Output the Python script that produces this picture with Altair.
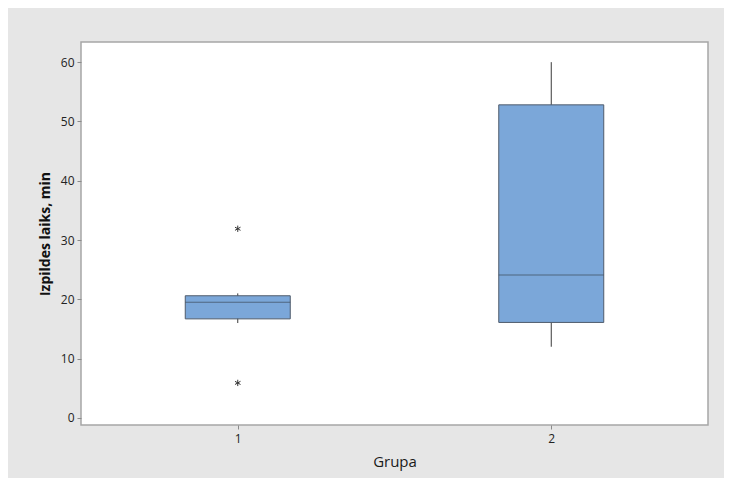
import altair as alt
import pandas as pd

groups = ["1", "2"]
q1 = [16.7, 16.1]
median = [19.5, 24.1]
q3 = [20.6, 52.8]
whisker_low = [16.0, 12.0]
whisker_high = [21.0, 60.0]
outlier_group = ["1", "1"]
outlier_value = [31.9, 5.9]
y_ticks = [0, 10, 20, 30, 40, 50, 60]

boxes = pd.DataFrame({"Grupa": groups, "q1": q1, "median": median, "q3": q3,
                      "lo": whisker_low, "hi": whisker_high})
outs = pd.DataFrame({"Grupa": outlier_group, "v": outlier_value})

xscale = alt.Scale(type="point", padding=0.5, domain=groups)
yscale = alt.Scale(domain=[-1.2, 63.4], nice=False, zero=False)

x_enc = alt.X("Grupa:N", scale=xscale, title="Grupa",
              axis=alt.Axis(labelAngle=0, domain=False, tickColor="#8a8a8a", tickSize=4,
                            labelColor="#222222", labelFontSize=12, labelPadding=4,
                            titleFontSize=15, titleFontWeight=500, titleColor="#1a1a1a",
                            titlePadding=10, labelFont="Open Sans", titleFont="Open Sans"))
y_axis = alt.Axis(values=y_ticks, domain=False, grid=False, tickColor="#8a8a8a", tickSize=4,
                  labelColor="#222222", labelFontSize=12, labelPadding=3,
                  titleFontSize=14, titleFontWeight="bold", titleColor="#111111",
                  titlePadding=8, labelFont="Open Sans", titleFont="Open Sans")

base = alt.Chart(boxes)

whisk = base.mark_rule(color="#3a3a3a", strokeWidth=1).encode(
    x=x_enc,
    y=alt.Y("lo:Q", scale=yscale, axis=y_axis, title="Izpildes laiks, min"),
    y2="hi:Q",
)
bar = base.mark_bar(size=105, color="#7ba7d9", stroke="#4f5b6b", strokeWidth=1).encode(
    x=alt.X("Grupa:N", scale=xscale),
    y=alt.Y("q1:Q", scale=yscale),
    y2="q3:Q",
)
med = base.mark_tick(size=105, thickness=1, color="#3d4a5a", orient="horizontal").encode(
    x=alt.X("Grupa:N", scale=xscale),
    y=alt.Y("median:Q", scale=yscale),
)
star = alt.Chart(outs).mark_point(
    shape="M0,-1L0,1M-0.87,-0.5L0.87,0.5M-0.87,0.5L0.87,-0.5",
    size=40, filled=False, color="#333333", strokeWidth=1, opacity=1,
).encode(
    x=alt.X("Grupa:N", scale=xscale),
    y=alt.Y("v:Q", scale=yscale),
)

chart = alt.layer(whisk, bar, med, star).properties(
    width=627, height=383,
    background="#e6e6e6",
    autosize=alt.AutoSizeParams(type="none"),
    padding={"left": 73, "top": 34, "right": 16, "bottom": 53},
).configure_view(fill="white", stroke="#a6a6a6", strokeWidth=1.5)

chart.save("out.html", embed_options={"renderer": "svg", "actions": False})
